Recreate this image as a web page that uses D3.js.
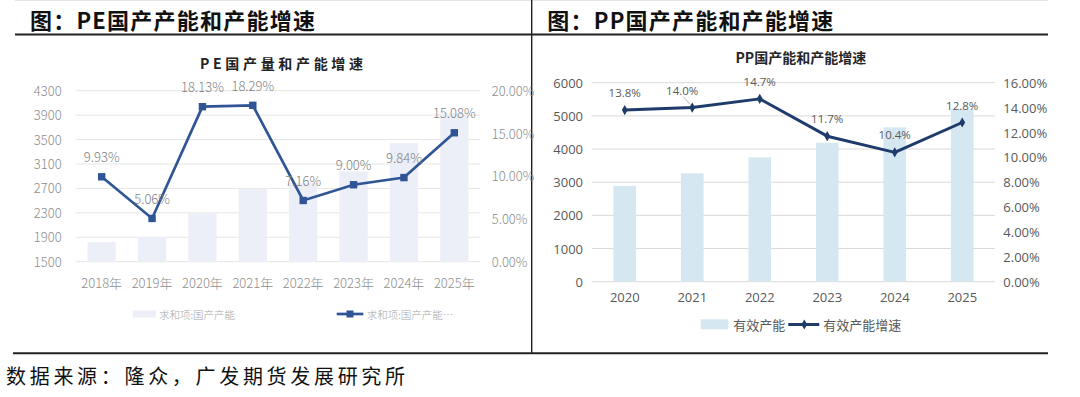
<!DOCTYPE html>
<html>
<head>
<meta charset="utf-8">
<script src="https://cdn.jsdelivr.net/npm/d3@7"></script>
<style>
  body { margin: 0; background: #fff; }
  svg { display: block; }
</style>
</head>
<body>
<div id="chart"></div>
<script>
// PE data (left panel)
var peYears = ["2018年", "2019年", "2020年", "2021年", "2022年", "2023年", "2024年", "2025年"];
var peCapacity = [1820, 1905, 2290, 2690, 2790, 2980, 3440, 3930];
var peGrowth = [9.93, 5.06, 18.13, 18.29, 7.16, 9.00, 9.84, 15.08];
var peLeftTicks = [1500, 1900, 2300, 2700, 3100, 3500, 3900, 4300];
var peRightTicks = [0, 5, 10, 15, 20];

// PP data (right panel)
var ppYears = ["2020", "2021", "2022", "2023", "2024", "2025"];
var ppCapacity = [2890, 3270, 3750, 4190, 4655, 5210];
var ppGrowth = [13.8, 14.0, 14.7, 11.7, 10.4, 12.8];
var ppLeftTicks = [0, 1000, 2000, 3000, 4000, 5000, 6000];
var ppRightTicks = [0, 2, 4, 6, 8, 10, 12, 14, 16];

var svgWidth = 1080;
var svgHeight = 397;
var cjk = "'Noto Sans CJK SC', sans-serif";
var sans = "'Open Sans', 'Noto Sans CJK SC', sans-serif";

var svg = d3.select("#chart").append("svg")
    .attr("width", svgWidth).attr("height", svgHeight);

svg.append("rect").attr("width", svgWidth).attr("height", svgHeight).attr("fill", "#fff");

// frame lines
svg.append("line").attr("x1", 15).attr("x2", 1048).attr("y1", 0.5).attr("y2", 0.5)
    .attr("stroke", "#e4e4e4").attr("stroke-width", 1);
svg.append("line").attr("x1", 15).attr("x2", 1048).attr("y1", 34.5).attr("y2", 34.5)
    .attr("stroke", "#222").attr("stroke-width", 1.8);
svg.append("line").attr("x1", 13).attr("x2", 1048).attr("y1", 353.3).attr("y2", 353.3)
    .attr("stroke", "#222").attr("stroke-width", 2);
svg.append("line").attr("x1", 531.7).attr("x2", 531.7).attr("y1", 0).attr("y2", 353)
    .attr("stroke", "#222").attr("stroke-width", 1.4);

// panel headings
svg.append("text").attr("x", 30).attr("y", 18.5).attr("dominant-baseline", "central")
    .attr("font-family", cjk).attr("font-weight", 700).attr("font-size", 22)
    .attr("textLength", 285).attr("lengthAdjust", "spacing").attr("fill", "#111")
    .text("图：PE国产产能和产能增速");
svg.append("text").attr("x", 547.3).attr("y", 18.5).attr("dominant-baseline", "central")
    .attr("font-family", cjk).attr("font-weight", 700).attr("font-size", 22)
    .attr("textLength", 286).attr("lengthAdjust", "spacing").attr("fill", "#111")
    .text("图：PP国产产能和产能增速");
svg.append("text").attr("x", 6).attr("y", 375).attr("dominant-baseline", "central")
    .attr("font-family", cjk).attr("font-size", 20)
    .attr("textLength", 399).attr("lengthAdjust", "spacing").attr("fill", "#111")
    .text("数据来源：隆众，广发期货发展研究所");

// ---------------- PE chart ----------------
var pe = svg.append("g");
var peX = d3.scaleBand().domain(peYears).range([76.5, 479.5]).paddingInner(0.44).paddingOuter(0.22);
var peYL = d3.scaleLinear().domain([1500, 4300]).range([261.7, 90.7]);
var peYR = d3.scaleLinear().domain([0, 20]).range([261.7, 90.7]);
var peGray = "#8c8c8c";
var peBlue = "#2f5597";
var peBar = "#eceef8";

pe.append("text").attr("x", 200).attr("y", 63).attr("dominant-baseline", "central")
    .attr("font-family", cjk).attr("font-weight", 700).attr("font-size", 14)
    .attr("textLength", 163).attr("lengthAdjust", "spacing").attr("fill", "#222")
    .text("PE国产量和产能增速");

pe.append("g").selectAll("line").data(peLeftTicks).enter().append("line")
    .attr("x1", 76).attr("x2", 480)
    .attr("y1", function(d) { return peYL(d); }).attr("y2", function(d) { return peYL(d); })
    .attr("stroke", "#e6e6e6").attr("stroke-width", 1);

var peAxisL = d3.axisLeft(peYL).tickValues(peLeftTicks).tickSize(0).tickPadding(0)
    .tickFormat(d3.format("d"));
pe.append("g").attr("transform", "translate(61.7,0)").call(peAxisL)
    .call(function(g) { g.select(".domain").remove(); })
    .selectAll("text").attr("font-family", cjk).attr("font-weight", 300)
    .attr("font-size", 13).attr("fill", peGray).attr("dy", "0.35em");

var peAxisR = d3.axisRight(peYR).tickValues(peRightTicks).tickSize(0).tickPadding(0)
    .tickFormat(function(d) { return d.toFixed(2) + "%"; });
pe.append("g").attr("transform", "translate(491.7,0)").call(peAxisR)
    .call(function(g) { g.select(".domain").remove(); })
    .selectAll("text").attr("font-family", cjk).attr("font-weight", 300)
    .attr("font-size", 13).attr("fill", peGray).attr("dy", "0.35em");

var peAxisX = d3.axisBottom(peX).tickSize(0).tickPadding(0);
pe.append("g").attr("transform", "translate(0,283)").call(peAxisX)
    .call(function(g) { g.select(".domain").remove(); })
    .selectAll("text").attr("font-family", cjk).attr("font-weight", 300)
    .attr("font-size", 13).attr("fill", peGray).attr("dy", "0.35em");

pe.append("g").selectAll("rect").data(peCapacity).enter().append("rect")
    .attr("x", function(d, i) { return peX(peYears[i]); })
    .attr("width", peX.bandwidth())
    .attr("y", function(d) { return peYL(d); })
    .attr("height", function(d) { return peYL(1500) - peYL(d); })
    .attr("fill", peBar);

var peLine = d3.line()
    .x(function(d, i) { return peX(peYears[i]) + peX.bandwidth() / 2; })
    .y(function(d) { return peYR(d); });
pe.append("path").datum(peGrowth).attr("d", peLine)
    .attr("fill", "none").attr("stroke", peBlue).attr("stroke-width", 2.7);

pe.append("g").selectAll("rect").data(peGrowth).enter().append("rect")
    .attr("x", function(d, i) { return peX(peYears[i]) + peX.bandwidth() / 2 - 3.7; })
    .attr("y", function(d) { return peYR(d) - 3.7; })
    .attr("width", 7.4).attr("height", 7.4).attr("fill", peBlue);

pe.append("g").selectAll("text").data(peGrowth).enter().append("text")
    .attr("x", function(d, i) { return peX(peYears[i]) + peX.bandwidth() / 2; })
    .attr("y", function(d) { return peYR(d) - 20; })
    .attr("text-anchor", "middle").attr("dominant-baseline", "central")
    .attr("font-family", cjk).attr("font-weight", 300).attr("font-size", 13)
    .attr("fill", "#7f7f7f")
    .text(function(d) { return d.toFixed(2) + "%"; });

// PE legend
pe.append("rect").attr("x", 132.7).attr("y", 310.5).attr("width", 23.3).attr("height", 7)
    .attr("fill", peBar);
pe.append("text").attr("x", 159).attr("y", 314).attr("dominant-baseline", "central")
    .attr("font-family", cjk).attr("font-weight", 300).attr("font-size", 10.5)
    .attr("fill", "#a6a6a6").text("求和项:国产产能");
pe.append("line").attr("x1", 336.7).attr("x2", 363.3).attr("y1", 314).attr("y2", 314)
    .attr("stroke", peBlue).attr("stroke-width", 2.7);
pe.append("rect").attr("x", 346.5).attr("y", 310.5).attr("width", 7).attr("height", 7)
    .attr("fill", peBlue);
pe.append("text").attr("x", 366.7).attr("y", 314).attr("dominant-baseline", "central")
    .attr("font-family", cjk).attr("font-weight", 300).attr("font-size", 10.5)
    .attr("fill", "#a6a6a6").text("求和项:国产产能…");

// ---------------- PP chart ----------------
var pp = svg.append("g");
var ppX = d3.scaleBand().domain(ppYears).range([591, 996]).paddingInner(0.665).paddingOuter(0.3325);
var ppYL = d3.scaleLinear().domain([0, 6000]).range([281.7, 82.7]);
var ppYR = d3.scaleLinear().domain([0, 16]).range([281.7, 82.7]);
var ppText = "#595959";
var ppNavy = "#1f3b6b";

pp.append("text").attr("x", 800.8).attr("y", 56.5).attr("text-anchor", "middle")
    .attr("dominant-baseline", "central")
    .attr("font-family", cjk).attr("font-weight", 700).attr("font-size", 14)
    .attr("fill", "#262626").text("PP国产能和产能增速");

pp.append("g").selectAll("line").data(ppLeftTicks).enter().append("line")
    .attr("x1", 591.7).attr("x2", 995)
    .attr("y1", function(d) { return ppYL(d); }).attr("y2", function(d) { return ppYL(d); })
    .attr("stroke", "#d9d9d9").attr("stroke-width", 1);

var ppAxisL = d3.axisLeft(ppYL).tickValues(ppLeftTicks).tickSize(0).tickPadding(0)
    .tickFormat(d3.format("d"));
pp.append("g").attr("transform", "translate(583,0)").call(ppAxisL)
    .call(function(g) { g.select(".domain").remove(); })
    .selectAll("text").attr("font-family", sans).attr("font-size", 13)
    .attr("fill", ppText).attr("dy", "0.35em");

var ppAxisR = d3.axisRight(ppYR).tickValues(ppRightTicks).tickSize(0).tickPadding(0)
    .tickFormat(function(d) { return d.toFixed(2) + "%"; });
pp.append("g").attr("transform", "translate(1003.3,0)").call(ppAxisR)
    .call(function(g) { g.select(".domain").remove(); })
    .selectAll("text").attr("font-family", sans).attr("font-size", 13)
    .attr("fill", ppText).attr("dy", "0.35em");

var ppAxisX = d3.axisBottom(ppX).tickSize(0).tickPadding(0);
pp.append("g").attr("transform", "translate(0,297)").call(ppAxisX)
    .call(function(g) { g.select(".domain").remove(); })
    .selectAll("text").attr("font-family", sans).attr("font-size", 13)
    .attr("fill", ppText).attr("dy", "0.35em");

pp.append("g").selectAll("rect").data(ppCapacity).enter().append("rect")
    .attr("x", function(d, i) { return ppX(ppYears[i]); })
    .attr("width", ppX.bandwidth())
    .attr("y", function(d) { return ppYL(d); })
    .attr("height", function(d) { return ppYL(0) - ppYL(d); })
    .attr("fill", "#d5e8f1");

var ppLine = d3.line()
    .x(function(d, i) { return ppX(ppYears[i]) + ppX.bandwidth() / 2; })
    .y(function(d) { return ppYR(d); });
pp.append("path").datum(ppGrowth).attr("d", ppLine)
    .attr("fill", "none").attr("stroke", ppNavy).attr("stroke-width", 3)
    .attr("stroke-linejoin", "round");

var diamond = d3.symbol().type(d3.symbolDiamond).size(30);
pp.append("g").selectAll("path").data(ppGrowth).enter().append("path")
    .attr("d", diamond)
    .attr("transform", function(d, i) {
        return "translate(" + (ppX(ppYears[i]) + ppX.bandwidth() / 2) + "," + ppYR(d) + ")";
    })
    .attr("fill", ppNavy);

// 2021 label sits left of its point with a leader line
pp.append("g").selectAll("text").data(ppGrowth).enter().append("text")
    .attr("x", function(d, i) { return ppX(ppYears[i]) + ppX.bandwidth() / 2 + (i == 1 ? -10 : 0); })
    .attr("y", function(d) { return ppYR(d) - 17.5; })
    .attr("text-anchor", "middle").attr("dominant-baseline", "central")
    .attr("font-family", sans).attr("font-size", 11.5).attr("fill", ppText)
    .text(function(d) { return d.toFixed(1) + "%"; });
var lx = ppX(ppYears[1]) + ppX.bandwidth() / 2;
var ly = ppYR(ppGrowth[1]);
pp.append("line").attr("x1", lx - 9).attr("y1", ly - 11).attr("x2", lx - 2).attr("y2", ly - 3)
    .attr("stroke", "#a6a6a6").attr("stroke-width", 0.8);

// PP legend
pp.append("rect").attr("x", 700.7).attr("y", 319.3).attr("width", 27.6).attr("height", 10)
    .attr("fill", "#d5e8f1");
pp.append("text").attr("x", 733.3).attr("y", 324.5).attr("dominant-baseline", "central")
    .attr("font-family", cjk).attr("font-size", 13).attr("fill", ppText).text("有效产能");
pp.append("line").attr("x1", 788.3).attr("x2", 819.3).attr("y1", 324.5).attr("y2", 324.5)
    .attr("stroke", ppNavy).attr("stroke-width", 3);
pp.append("path").attr("d", diamond).attr("transform", "translate(804.3,324.5)").attr("fill", ppNavy);
pp.append("text").attr("x", 823.3).attr("y", 324.5).attr("dominant-baseline", "central")
    .attr("font-family", cjk).attr("font-size", 13).attr("fill", ppText).text("有效产能增速");
</script>
</body>
</html>
